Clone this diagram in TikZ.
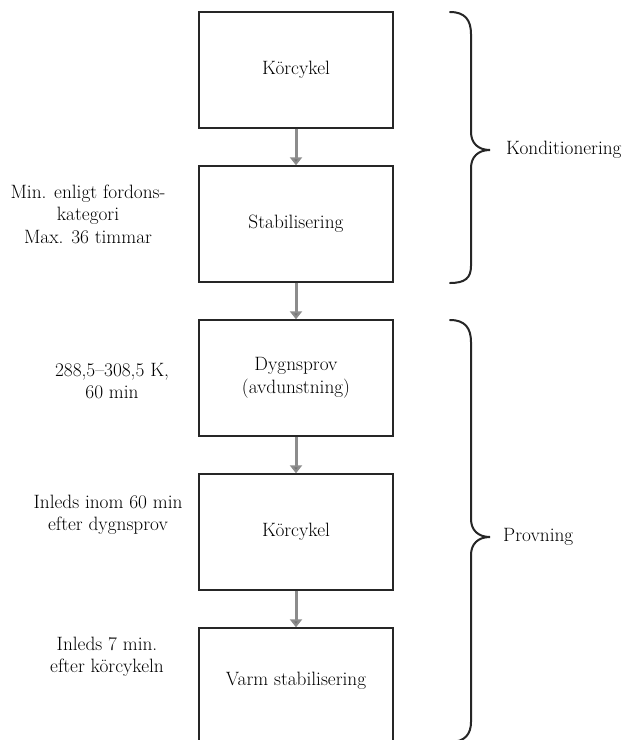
\documentclass[tikz,border=0pt]{standalone}
\usetikzlibrary{arrows.meta}
\begin{document}
\begin{tikzpicture}[x=1pt,y=1pt,
  box/.style={draw=black!85,line width=1.4pt,minimum width=194pt,minimum height=116pt,inner sep=0pt,align=center,font=\fontsize{19.3}{22.5}\selectfont},
  lbl/.style={align=center,inner sep=0pt,font=\fontsize{19.3}{22.5}\selectfont},
  flow/.style={draw=black!45,line width=3pt,-{Triangle[width=12pt,length=8pt,fill=black!55]}},
  brace/.style={draw=black!85,line width=2pt,line cap=round}]
\clip (0,0) rectangle (625,-740);
\fill[white] (0,0) rectangle (625,-740);
\node[box] (b1) at (296,-70) {Körcykel};
\node[box] (b2) at (296,-224) {Stabilisering};
\node[box] (b3) at (296,-378) {Dygnsprov\\(avdunstning)};
\node[box] (b4) at (296,-532) {Körcykel};
\node[box] (b5) at (296,-686) {};
\node[lbl] (t5) at (296,-681) {Varm stabilisering};
\draw[flow] (b1.south) -- (b2.north);
\draw[flow] (b2.south) -- (b3.north);
\draw[flow] (b3.south) -- (b4.north);
\draw[flow] (b4.south) -- (b5.north);
\node[lbl] (l1) at (88,-214) {Min. enligt fordons-\\kategori\\Max. 36 timmar};
\node[lbl] (l2) at (112,-381) {288,5–308,5 K,\\60 min};
\node[lbl] (l3) at (108,-515) {Inleds inom 60 min\\efter dygnsprov};
\node[lbl] (l4) at (107,-657) {Inleds 7 min.\\efter körcykeln};
\draw[brace] (450,-12) .. controls (465,-12) and (471,-20) .. (471,-34) -- (471,-132) .. controls (471,-143) and (478,-150) .. (490,-150) .. controls (478,-150) and (471,-157) .. (471,-168) -- (471,-266) .. controls (471,-278) and (465,-283) .. (450,-283);
\node[lbl,anchor=west] (k) at (506,-150) {Konditionering};
\draw[brace] (450,-320) .. controls (465,-320) and (471,-328) .. (471,-342) -- (471,-519) .. controls (471,-530) and (478,-537) .. (490,-537) .. controls (478,-537) and (471,-544) .. (471,-555) -- (471,-722) .. controls (471,-734) and (465,-742) .. (450,-742);
\node[lbl,anchor=west] (p) at (503,-537) {Provning};
\end{tikzpicture}
\end{document}
